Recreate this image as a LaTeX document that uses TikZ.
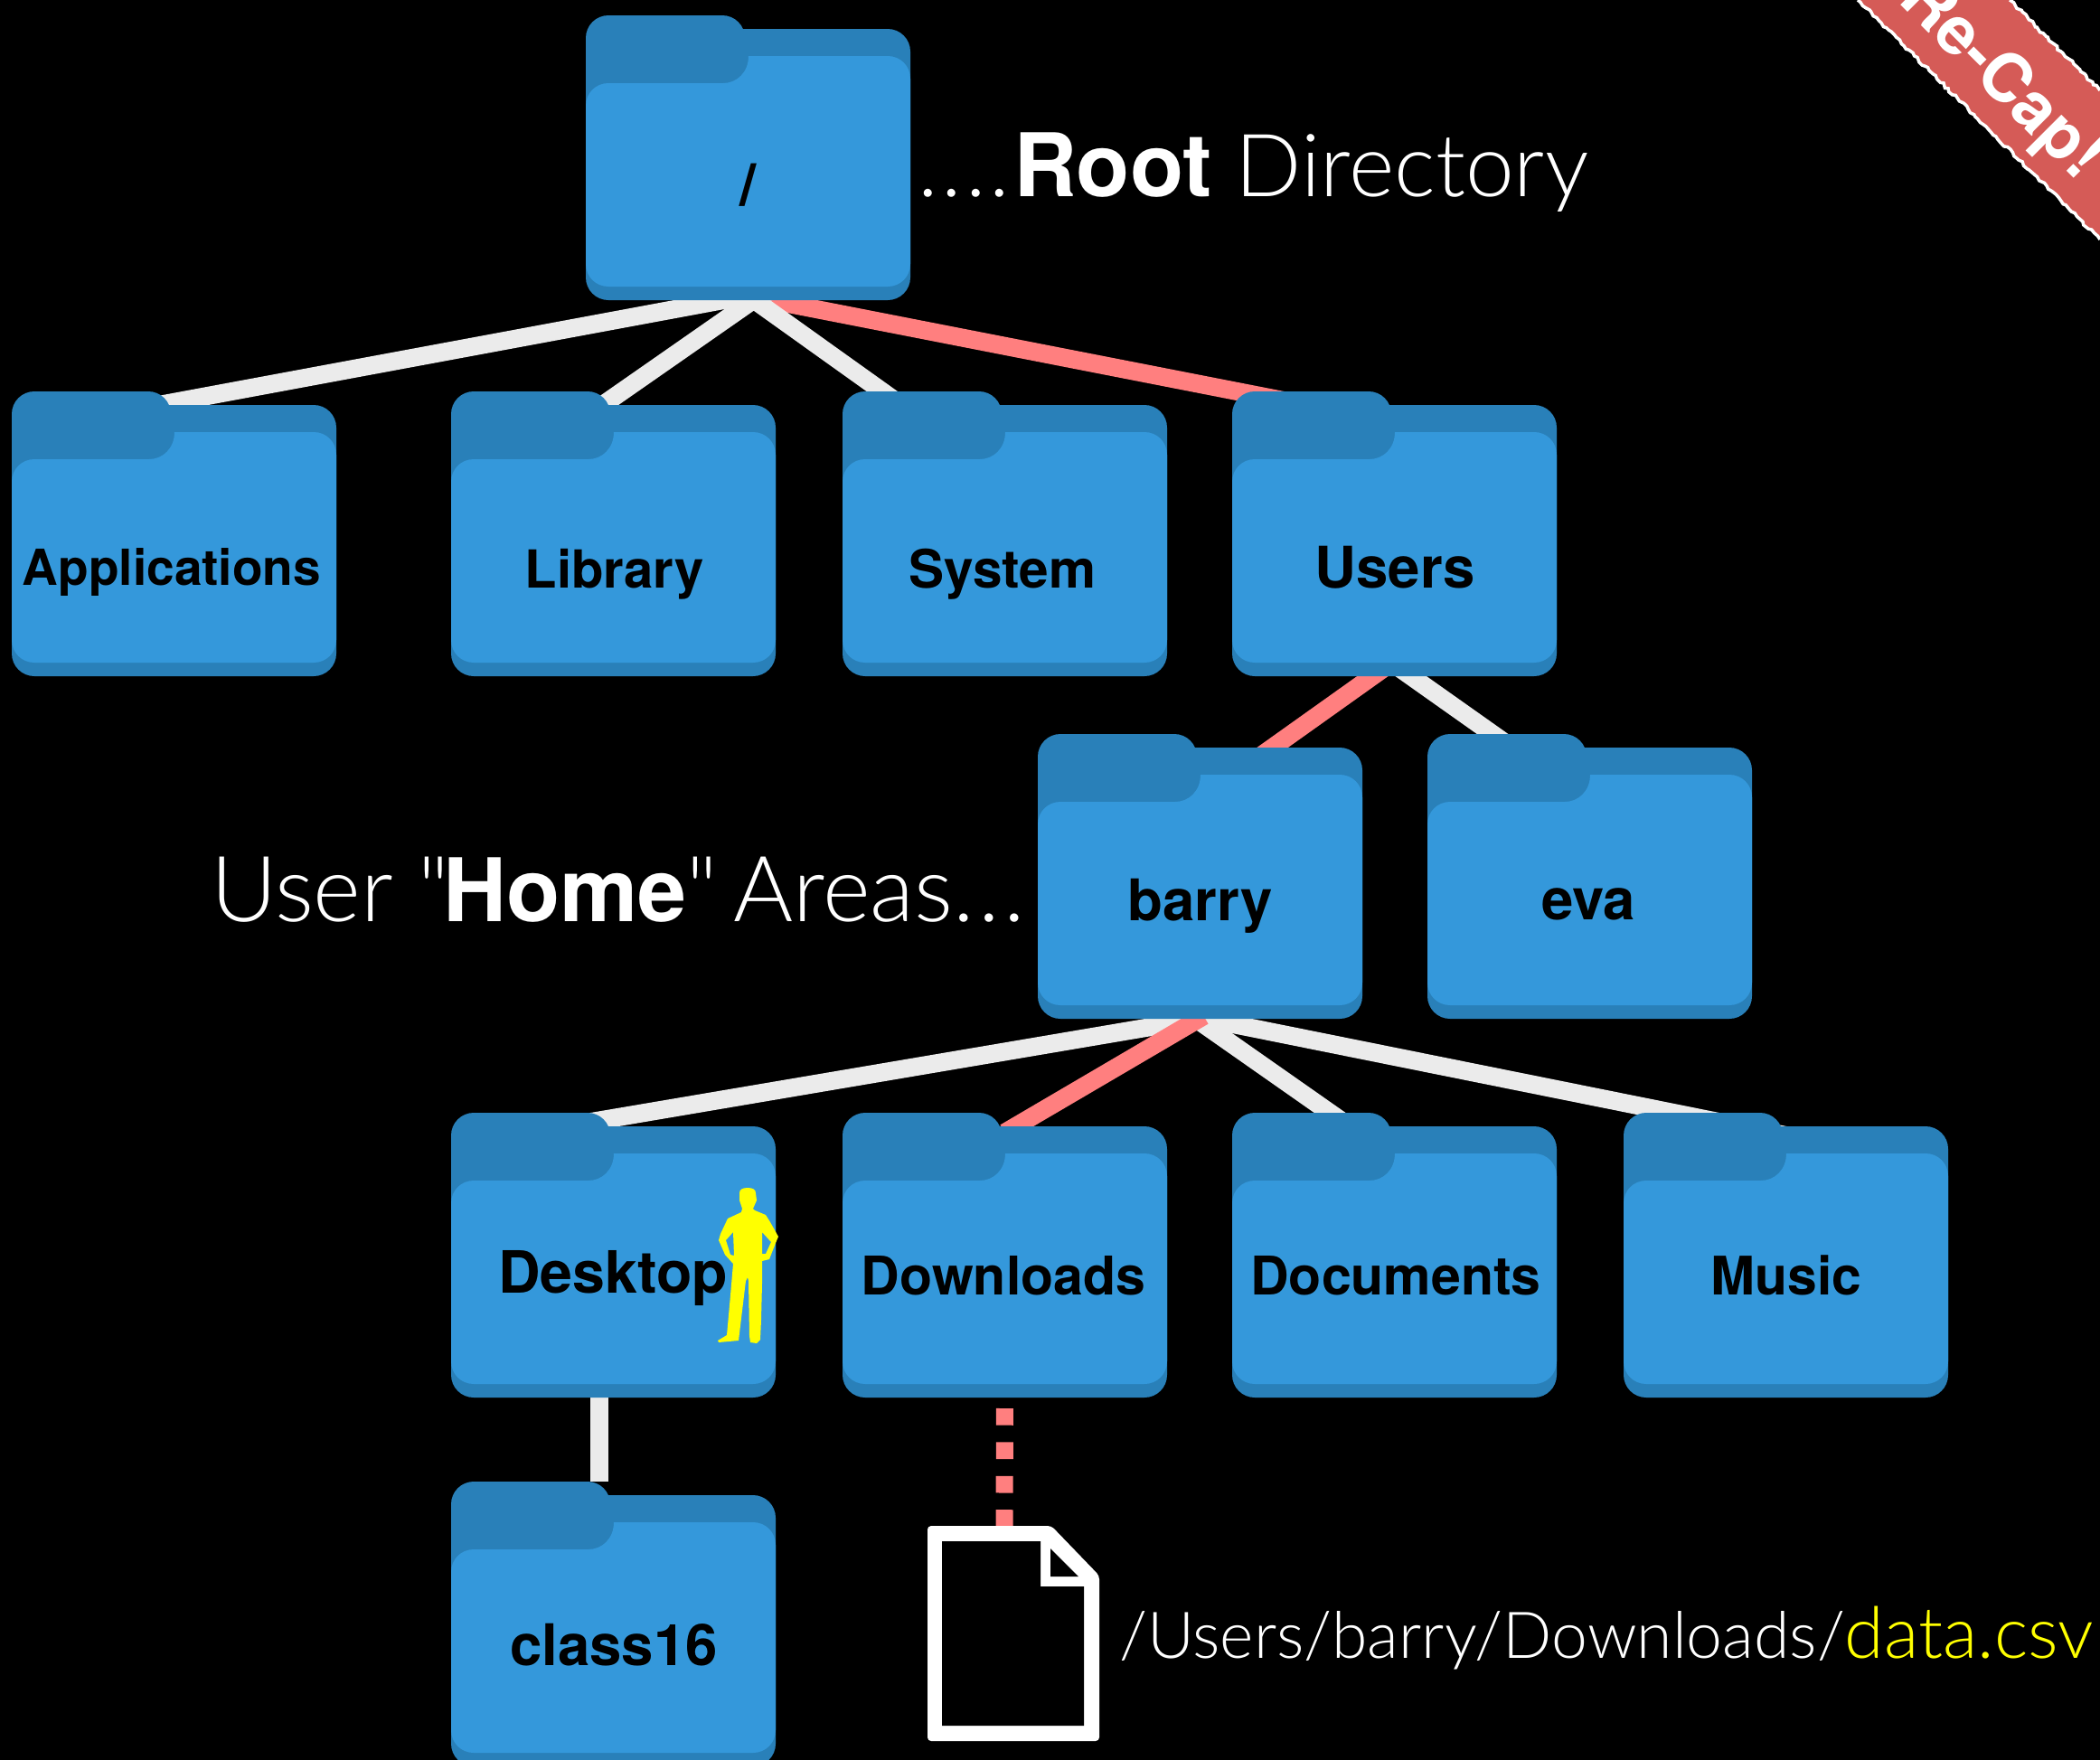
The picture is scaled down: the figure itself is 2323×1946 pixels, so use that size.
\documentclass[tikz,border=0pt]{standalone}
\usepackage{fontspec}
\setmainfont{TeX Gyre Heros}
\newfontfamily\thinfont{Lato Light}
\usetikzlibrary{positioning,decorations.pathmorphing}

\definecolor{folderdark}{HTML}{2980B9}
\definecolor{folderlight}{HTML}{3498DB}
\definecolor{linewhite}{HTML}{EBEBEB}
\definecolor{linered}{HTML}{FF7F7F}
\definecolor{ribbonred}{HTML}{D55B57}
\definecolor{manyellow}{HTML}{FFFF00}

\pgfdeclarelayer{background}
\pgfdeclarelayer{top}
\pgfsetlayers{background,main,top}

\begin{document}
\begin{tikzpicture}[x=1pt,y=-1pt]

\tikzset{folderbox/.style={minimum width=359pt, minimum height=315pt, inner sep=0pt, outer sep=0pt},
folderlabel/.style={anchor=base, inner sep=0pt, text=black},
whiteline/.style={draw=linewhite, line width=20pt},
redline/.style={draw=linered, line width=20pt},
bigtext/.style={anchor=base west, inner sep=0pt, text=white},
ribbonedge/.style={draw=white, line width=3.5pt, decorate, decoration={random steps, segment length=4pt, amplitude=1.5pt}}}

\useasboundingbox (0,0) rectangle (2323,1946);

\begin{pgfonlayer}{background}
\fill[black] (-5,-5) rectangle (2328,1951);
\end{pgfonlayer}

%the folders, with the centre and size of every label
\foreach \name/\x/\y/\lab/\lx/\ly/\fs in {root/648/17/{/}/828/227/65, apps/13/433/Applications/190/647/55, lib/499/433/Library/680/650/58, sys/932/433/System/1109/650/58.5, users/1363/433/Users/1543/650/63.5, barry/1148/812/barry/1328/1018/63.5, eva/1579/812/eva/1757/1017/63.5, desk/499/1231/Desktop/678/1430/64.5, down/932/1231/Downloads/1110/1432/59, docs/1363/1231/Documents/1544/1432/59, music/1796/1231/Music/1976/1432/58.8, class/499/1639/class16/679/1842/63.5}
{
  \begin{scope}[shift={(\x,\y)}]
    \fill[folderdark, rounded corners=25pt] (0,0) rectangle (176,100);
    \fill[folderdark, rounded corners=25pt] (0,15) rectangle (359,315);
    \fill[folderlight] (0,100) .. controls (0,86) and (11,75) .. (25,75) -- (152,75) .. controls (167,75) and (180,63) .. (180,45) -- (334,45) .. controls (348,45) and (359,56) .. (359,70) -- (359,275) .. controls (359,289) and (348,300) .. (334,300) -- (25,300) .. controls (11,300) and (0,289) .. (0,275) -- cycle;
    \node[folderbox] (\name) at (179.5,157.5) {};
  \end{scope}
  \begin{pgfonlayer}{top}
    \node[folderlabel, font=\fontsize{\fs}{\fs}\selectfont\bfseries] (\name label) at (\lx,\ly) {\lab};
  \end{pgfonlayer}
}

\node[inner sep=0pt, minimum width=190pt, minimum height=238pt] (file) at (1121,1807) {};

%connectors go under the folders
\begin{pgfonlayer}{background}
\draw[redline] ([xshift=-27pt,yshift=10pt]root.south) -- ([yshift=-34pt]users.north);
\draw[whiteline] ([xshift=43pt,yshift=13pt]root.south) -- ([xshift=-60pt,yshift=-23pt]apps.north);
\draw[whiteline] ([xshift=20pt,yshift=10pt]root.south) -- ([xshift=-29pt,yshift=-27pt]lib.north);
\draw[whiteline] ([xshift=-7pt,yshift=10pt]root.south) -- ([yshift=-97pt]sys.north);

\draw[redline] ([xshift=-10pt,yshift=10pt]users.south) -- ([yshift=-72pt]barry.north);
\draw[whiteline] ([xshift=4pt,yshift=10pt]users.south) -- ([yshift=-76pt]eva.north);

\draw[whiteline] ([xshift=52pt,yshift=9pt]barry.south) -- ([xshift=-60pt,yshift=-16pt]desk.north);
\draw[whiteline] ([xshift=-19pt,yshift=10pt]barry.south) -- ([yshift=-50pt]docs.north);
\draw[whiteline] ([xshift=-48pt,yshift=11pt]barry.south) -- ([yshift=-25pt]music.north);
\draw[redline] ([xshift=4pt,yshift=3pt]barry.south) -- ([yshift=-22pt]down.north);

\draw[whiteline] ([xshift=-16pt]desk.south) -- ([xshift=-16pt]class.north);
\draw[redline, line width=19pt, dash pattern=on 18.7pt off 18.7pt, dash phase=25.4pt] (down.south) -- ([xshift=-10pt]file.north);
\end{pgfonlayer}

%the document
\fill[white, rounded corners=4pt] (1026,1688) -- (1163,1688) -- (1216,1743) -- (1216,1926) -- (1026,1926) -- cycle;
\fill[black] (1042,1705) -- (1151,1705) -- (1151,1755) -- (1199,1755) -- (1199,1909) -- (1042,1909) -- cycle;
\fill[black] (1162,1713) -- (1162,1744) -- (1193,1744) -- cycle;

%the man on Desktop
\fill[manyellow, even odd rule] (827,1314) .. controls (833,1314) and (836,1316) .. (836,1320) -- (837,1328) -- (833,1337) -- (835,1339) -- (847,1344) -- (852,1352) -- (861,1368) -- (858,1375) -- (851,1393) -- (843,1395) -- (843,1420) -- (842,1460) -- (841,1482) -- (837,1486) -- (830,1485) -- (829,1478) -- (828,1417) -- (827,1413) -- (825,1417) -- (817,1483) -- (795,1485) -- (794,1483) -- (804,1477) -- (808,1433) -- (811,1398) -- (802,1388) -- (795,1372) -- (797,1365) -- (805,1348) -- (820,1341) -- (821,1337) -- (818,1328) -- (818,1320) .. controls (818,1316) and (821,1314) .. (827,1314) -- cycle
  (843,1363) -- (853,1374) -- (847,1387) -- (843,1387) -- cycle
  (811,1363) -- (803,1372) -- (808,1388) -- (812,1389) -- cycle;

%ribbon in the corner
\begin{scope}
\clip (0,0) rectangle (2323,1946);
\pgfmathsetseed{7}
\fill[ribbonred] (2055,0) -- (2323,265) -- (2323,100) -- (2223,0) -- cycle;
\draw[ribbonedge] (2055,0) -- (2323,265);
\draw[ribbonedge] (2223,0) -- (2323,100);
\node[rotate=-45, inner sep=0pt, text=white, font=\fontsize{74}{74}\selectfont\bfseries] (recap) at (2212,88) {Re-Cap!};
\end{scope}

\node[bigtext] (rootnote) at (1015,217) {\fontsize{96.5}{100}\selectfont\thinfont .\kern4pt.\kern4pt.\kern4pt.\kern4pt{\normalfont\bfseries\fontsize{97}{100}\selectfont Root} Directory};
\node[bigtext] (homenote) at (233,1019) {\fontsize{101}{100}\selectfont\thinfont User "\kern-7pt{\normalfont\bfseries\fontsize{97}{100}\selectfont Home}" \kern-10pt Areas.\kern4pt.\kern4pt.};
\node[bigtext] (pathnote) at (1238,1834) {\fontsize{71.5}{75}\selectfont\thinfont /Users/barry/Downloads/\textcolor{manyellow}{\fontsize{79}{75}\selectfont data.csv}};

\end{tikzpicture}
\end{document}
